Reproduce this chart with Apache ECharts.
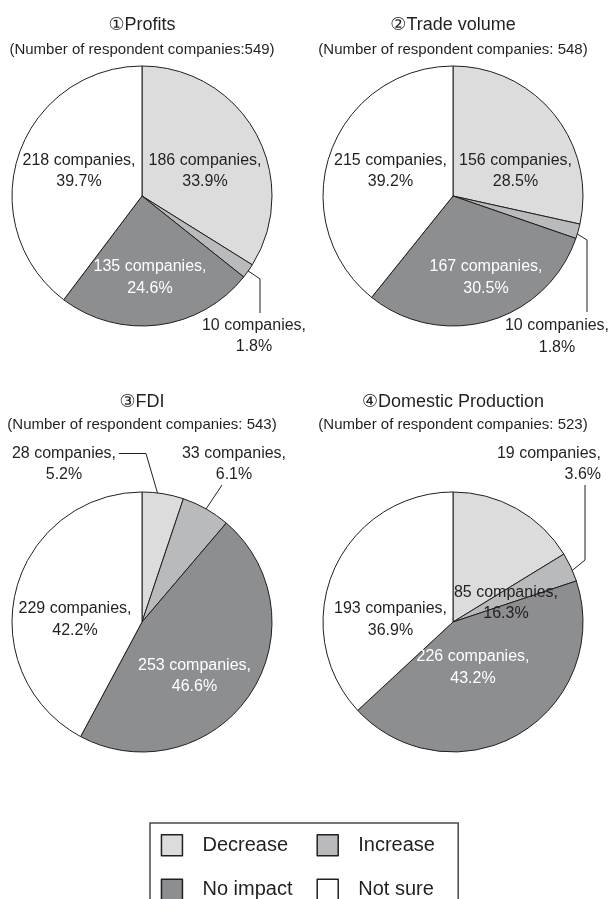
<!DOCTYPE html>
<html>
<head>
<meta charset="utf-8">
<script src="https://cdn.jsdelivr.net/npm/echarts@6/dist/echarts.min.js"></script>
<style>
  html, body { margin: 0; padding: 0; background: #ffffff; }
  #chart { width: 611px; height: 899px; }
</style>
</head>
<body>
<div id="chart"></div>
<script>
// Survey answers, in slice order (clockwise from 12 o'clock)
const categories = ['Decrease', 'Increase', 'No impact', 'Not sure'];
const profits = [186, 10, 135, 218];
const tradeVolume = [156, 10, 167, 215];
const fdi = [28, 33, 253, 229];
const domesticProduction = [85, 19, 226, 193];

const titles = ['①Profits', '②Trade volume', '③FDI', '④Domestic Production'];
const subtitles = [
  '(Number of respondent companies:549)',
  '(Number of respondent companies: 548)',
  '(Number of respondent companies: 543)',
  '(Number of respondent companies: 523)'
];

const panels = [profits, tradeVolume, fdi, domesticProduction];

const FONT = "'Liberation Sans', Arial, 'DejaVu Sans', 'Noto Sans CJK JP', sans-serif";
const INK = '#231f20';
const PALETTE = ['#dcdcdd', '#b9babc', '#8d8e90', '#ffffff'];
const RADIUS = 130;
const CENTERS = [[142, 196], [453, 196], [142, 622], [453, 622]];
const TITLE_TOP = [14, 14, 391, 391];
const TITLE_GAP = [5, 5, 3, 3];

// Where each label sits, as an offset from its pie's centre; optional leader line (offsets too)
const LABEL_SPOTS = [
  [
    { at: [63, -25] },
    { at: [112, 140], line: [[102, 72], [118, 83], [118, 117]] },
    { at: [8, 81.5] },
    { at: [-63, -25] }
  ],
  [
    { at: [62.5, -25] },
    { at: [104, 140.5], line: [[118, 34], [134, 44], [134, 116]] },
    { at: [33, 81.5] },
    { at: [-62.5, -25] }
  ],
  [
    { at: [-78, -158], line: [[-23, -168.5], [4, -168.5], [19, -117]] },
    { at: [92, -158], line: [[80, -137], [70, -122], [60, -107]] },
    { at: [52.5, 54] },
    { at: [-67, -2.5] }
  ],
  [
    { at: [53, -19] },
    { at: [148, -158], align: 'right', line: [[132, -137], [132, -62], [110, -44]] },
    { at: [20, 45.5] },
    { at: [-62.5, -2.5] }
  ]
];

const chart = echarts.init(document.getElementById('chart'), null, { renderer: 'canvas' });

const series = panels.map((values, s) => {
  const total = values.reduce((a, b) => a + b, 0);
  return {
    type: 'pie',
    center: CENTERS[s],
    radius: RADIUS,
    startAngle: 90,
    clockwise: true,
    avoidLabelOverlap: false,
    animation: false,
    silent: true,
    itemStyle: { borderColor: INK, borderWidth: 1 },
    label: {
      show: true,
      position: 'outside',
      fontFamily: FONT,
      fontSize: 16,
      lineHeight: 21.5,
      color: INK,
      formatter: (p) => p.value + ' companies,\n' + (p.value / total * 100).toFixed(1) + '%'
    },
    labelLine: { show: true, showAbove: true, lineStyle: { color: INK, width: 1 } },
    data: values.map((v, i) => {
      const item = { name: categories[i], value: v };
      if (i === 2) item.label = { color: '#ffffff' };
      if (!LABEL_SPOTS[s][i].line) item.labelLine = { show: false };
      return item;
    }),
    labelLayout: (p) => {
      const spot = LABEL_SPOTS[s][p.dataIndex];
      const c = CENTERS[s];
      const out = {
        x: c[0] + spot.at[0],
        y: c[1] + spot.at[1],
        align: spot.align || 'center',
        verticalAlign: 'middle'
      };
      if (spot.line) {
        out.labelLinePoints = spot.line.map((pt) => [c[0] + pt[0], c[1] + pt[1]]);
      }
      return out;
    }
  };
});

chart.setOption({
  backgroundColor: '#ffffff',
  color: PALETTE,
  animation: false,
  title: titles.map((t, s) => ({
    text: t,
    subtext: subtitles[s],
    left: CENTERS[s][0],
    top: TITLE_TOP[s],
    textAlign: 'center',
    padding: 0,
    itemGap: TITLE_GAP[s],
    textStyle: { fontFamily: FONT, fontSize: 18, fontWeight: 'normal', color: INK, lineHeight: 22 },
    subtextStyle: { fontFamily: FONT, fontSize: 15, color: INK, lineHeight: 18 }
  })),
  legend: {
    data: categories,
    left: 150,
    top: 823,
    width: 310,
    orient: 'horizontal',
    padding: [11, 8, 12, 10.7],
    itemGap: 22,
    itemWidth: 21,
    itemHeight: 21,
    icon: 'rect',
    selectedMode: false,
    borderColor: '#4a4a4a',
    borderWidth: 1.5,
    itemStyle: { borderColor: INK, borderWidth: 1.5 },
    textStyle: {
      fontFamily: FONT,
      fontSize: 20,
      color: INK,
      width: 92,
      lineHeight: 21.5,
      padding: [0, 0, 0, 15]
    }
  },
  series: series
});
</script>
</body>
</html>
